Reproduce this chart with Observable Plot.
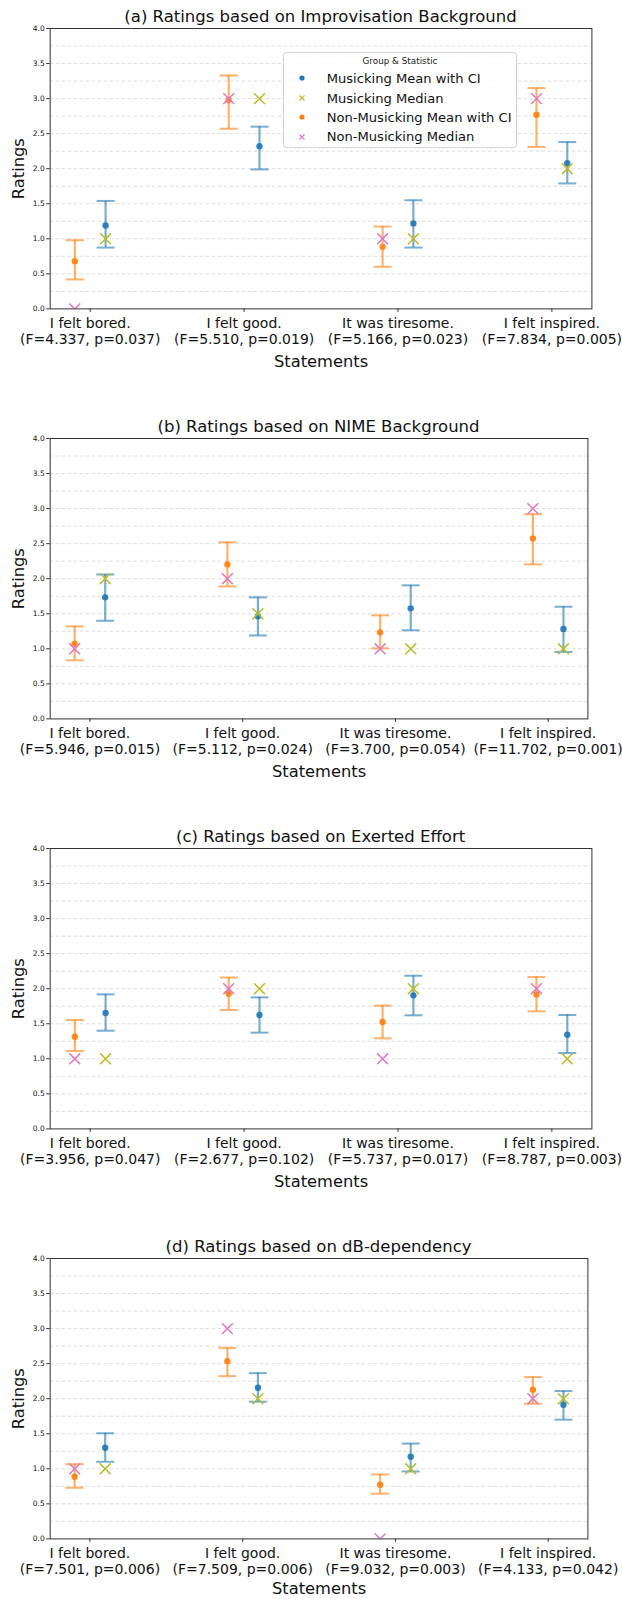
<!DOCTYPE html>
<html>
<head>
<meta charset="utf-8">
<script src="https://cdn.jsdelivr.net/npm/d3@7"></script>
<script src="https://cdn.jsdelivr.net/npm/@observablehq/plot@0.6"></script>
<style>
  body { margin: 0; background: #fff; font-family: "DejaVu Sans", sans-serif; }
  #root { position: relative; width: 622px; height: 1599px; overflow: hidden; background: #fff; }
  .panel { position: absolute; left: 0; width: 622px; }
  .title { position: absolute; font-size: 16.5px; line-height: 1; white-space: nowrap; transform: translate(-50%, -50%); color: #111; }
  .legend { position: absolute; box-sizing: border-box; border: 1px solid #d4d4d4; border-radius: 3px; background: rgba(255,255,255,0.85); }
  .legend .lt { position: absolute; left: 0; right: 0; text-align: center; font-size: 8.8px; line-height: 1; color: #222; }
  .legend .row { position: absolute; left: 0; height: 16px; display: flex; align-items: center; }
  .legend .row span { font-size: 13.1px; color: #111; line-height: 1; white-space: nowrap; }
</style>
</head>
<body>
<div id="root"></div>
<script>
// ---------- data ----------
const statements = ["I felt bored.", "I felt good.", "It was tiresome.", "I felt inspired."];
const titles = [
  "(a) Ratings based on Improvisation Background",
  "(b) Ratings based on NIME Background",
  "(c) Ratings based on Exerted Effort",
  "(d) Ratings based on dB-dependency"
];
const statsA = ["(F=4.337, p=0.037)", "(F=5.510, p=0.019)", "(F=5.166, p=0.023)", "(F=7.834, p=0.005)"];
const statsB = ["(F=5.946, p=0.015)", "(F=5.112, p=0.024)", "(F=3.700, p=0.054)", "(F=11.702, p=0.001)"];
const statsC = ["(F=3.956, p=0.047)", "(F=2.677, p=0.102)", "(F=5.737, p=0.017)", "(F=8.787, p=0.003)"];
const statsD = ["(F=7.501, p=0.006)", "(F=7.509, p=0.006)", "(F=9.032, p=0.003)", "(F=4.133, p=0.042)"];

const yTicks = [0, 0.5, 1, 1.5, 2, 2.5, 3, 3.5, 4];
const gridLines = [0.25, 0.5, 0.75, 1, 1.25, 1.5, 1.75, 2, 2.25, 2.5, 2.75, 3, 3.25, 3.5, 3.75];

const legendLabels = ["Musicking Mean with CI", "Musicking Median", "Non-Musicking Mean with CI", "Non-Musicking Median"];

// (a) Improvisation Background
const musMeanA = [1.19, 2.32, 1.22, 2.08];
const musLowA = [0.875, 1.99, 0.875, 1.79];
const musHighA = [1.54, 2.60, 1.55, 2.38];
const musMedianA = [1, 3, 1, 2];
const nonMeanA = [0.68, 2.98, 0.885, 2.77];
const nonLowA = [0.42, 2.57, 0.60, 2.31];
const nonHighA = [0.98, 3.33, 1.175, 3.15];
const nonMedianA = [0, 3, 1, 3];
// (b) NIME Background
const musMeanB = [1.734, 1.463, 1.577, 1.283];
const musLowB = [1.40, 1.19, 1.264, 0.955];
const musHighB = [2.06, 1.734, 1.905, 1.60];
const musMedianB = [2, 1.5, 1, 1];
const nonMeanB = [1.074, 2.204, 1.235, 2.575];
const nonLowB = [0.836, 1.89, 1.007, 2.204];
const nonHighB = [1.32, 2.52, 1.477, 2.92];
const nonMedianB = [1, 2, 1, 3];
// (c) Exerted Effort
const musMeanC = [1.653, 1.625, 1.905, 1.344];
const musLowC = [1.401, 1.373, 1.62, 1.083];
const musHighC = [1.919, 1.876, 2.185, 1.625];
const musMedianC = [1, 2, 2, 1];
const nonMeanC = [1.316, 1.929, 1.525, 1.919];
const nonLowC = [1.112, 1.696, 1.292, 1.677];
const nonHighC = [1.553, 2.16, 1.758, 2.166];
const nonMedianC = [1, 2, 1, 2];
// (d) dB-dependency
const musMeanD = [1.30, 2.156, 1.171, 1.915];
const musLowD = [1.10, 1.957, 0.962, 1.701];
const musHighD = [1.507, 2.365, 1.36, 2.109];
const musMedianD = [1, 2, 1, 2];
const nonMeanD = [0.886, 2.536, 0.773, 2.128];
const nonLowD = [0.73, 2.322, 0.645, 1.929];
const nonHighD = [1.066, 2.725, 0.919, 2.308];
const nonMedianD = [1, 3, 0, 2];

// ---------- style / layout ----------
const BLUE = "#1f77b4", ORANGE = "#ff7f0e", OLIVE = "#bcbd22", PINK = "#e377c2";
const OFFSET = 0.1;
const frameTops = [28.3, 438.3, 848.3, 1258.3];
const marginRights = [30.6, 34.6, 30.6, 34.6];
const xLabelOffsets = [53, 53, 53, 49.5];
const MT = 8, FRAME_H = 280.4, MB = 72.6, ML = 49.7;

const panels = [
  {stats: statsA, mm: musMeanA, ml: musLowA, mh: musHighA, md: musMedianA, nm: nonMeanA, nl: nonLowA, nh: nonHighA, nd: nonMedianA},
  {stats: statsB, mm: musMeanB, ml: musLowB, mh: musHighB, md: musMedianB, nm: nonMeanB, nl: nonLowB, nh: nonHighB, nd: nonMedianB},
  {stats: statsC, mm: musMeanC, ml: musLowC, mh: musHighC, md: musMedianC, nm: nonMeanC, nl: nonLowC, nh: nonHighC, nd: nonMedianC},
  {stats: statsD, mm: musMeanD, ml: musLowD, mh: musHighD, md: musMedianD, nm: nonMeanD, nl: nonLowD, nh: nonHighD, nd: nonMedianD}
];

const capSymbol = {
  draw(ctx, size) { const w = Math.sqrt(size / Math.PI); ctx.moveTo(-w, 0); ctx.lineTo(w, 0); }
};

const root = document.getElementById("root");

function errorMarks(rows, xf, yMean, yLo, yHi, color) {
  return [
    Plot.ruleX(rows, {x: xf, y1: yLo, y2: yHi, stroke: color, strokeOpacity: 0.6, strokeWidth: 2.2}),
    Plot.dot(rows, {x: xf, y: yLo, symbol: capSymbol, r: 9, fill: "none", stroke: color, strokeOpacity: 0.6, strokeWidth: 2}),
    Plot.dot(rows, {x: xf, y: yHi, symbol: capSymbol, r: 9, fill: "none", stroke: color, strokeOpacity: 0.6, strokeWidth: 2}),
    Plot.dot(rows, {x: xf, y: yMean, r: 3.2, fill: color, fillOpacity: 0.9, stroke: "none"})
  ];
}

panels.forEach((p, k) => {
  const rows = statements.map((s, i) => ({
    i, mm: p.mm[i], ml: p.ml[i], mh: p.mh[i], md: p.md[i],
    nm: p.nm[i], nl: p.nl[i], nh: p.nh[i], nd: p.nd[i]
  }));
  const xMus = d => d.i + OFFSET;
  const xNon = d => d.i - OFFSET;
  const mr = marginRights[k];

  const chart = Plot.plot({
    width: 622,
    height: MT + FRAME_H + MB,
    marginLeft: ML,
    marginRight: mr,
    marginTop: MT,
    marginBottom: MB,
    x: {type: "linear", domain: [-0.26, 3.26], axis: null},
    y: {domain: [0, 4], axis: null},
    style: {fontFamily: "'DejaVu Sans', sans-serif", background: "transparent", color: "#111", overflow: "visible"},
    marks: [
      Plot.ruleY(gridLines, {stroke: "#d9d9d9", strokeWidth: 0.9, strokeDasharray: "3.5,2.5"}),
      Plot.axisY({ticks: yTicks, tickFormat: d => d.toFixed(1), fontSize: 7.5, tickSize: 3.5, tickPadding: 2, label: null, stroke: "#333"}),
      Plot.axisX({ticks: [0, 1, 2, 3], tickFormat: i => statements[i] + "\n" + p.stats[i], fontSize: 14, tickSize: 3.5, tickPadding: 4, lineHeight: 1.17, label: null, stroke: "#333"}),
      Plot.text(["Ratings"], {frameAnchor: "left", dx: -31.8, rotate: -90, textAnchor: "middle", lineAnchor: "middle", fontSize: 16.3, fill: "#111"}),
      Plot.text(["Statements"], {frameAnchor: "bottom", dy: xLabelOffsets[k], textAnchor: "middle", lineAnchor: "middle", fontSize: 16.3, fill: "#111"}),
      ...errorMarks(rows, xMus, "mm", "ml", "mh", BLUE),
      Plot.dot(rows, {x: xMus, y: "md", symbol: "times", r: 5, stroke: OLIVE, strokeWidth: 1.5, clip: true}),
      ...errorMarks(rows, xNon, "nm", "nl", "nh", ORANGE),
      Plot.dot(rows, {x: xNon, y: "nd", symbol: "times", r: 5, stroke: PINK, strokeWidth: 1.5, clip: true}),
      Plot.frame({stroke: "#333", strokeWidth: 1})
    ]
  });

  const wrap = document.createElement("div");
  wrap.className = "panel";
  wrap.style.top = (frameTops[k] - MT) + "px";
  wrap.appendChild(chart);
  root.appendChild(wrap);

  const t = document.createElement("div");
  t.className = "title";
  t.textContent = titles[k];
  t.style.left = ((ML + 622 - mr) / 2) + "px";
  t.style.top = (frameTops[k] - 11.3) + "px";
  root.appendChild(t);
});

// ---------- legend (panel a) ----------
const legend = document.createElement("div");
legend.className = "legend";
Object.assign(legend.style, {left: "283.3px", top: "51.7px", width: "233.4px", height: "96.6px"});
const lt = document.createElement("div");
lt.className = "lt";
lt.style.top = "4.6px";
lt.textContent = "Group & Statistic";
legend.appendChild(lt);
const legendColors = [BLUE, OLIVE, ORANGE, PINK];
const legendShapes = ["dot", "x", "dot", "x"];
const rowCenters = [25.6, 45.4, 64.4, 84.0];
legendLabels.forEach((lab, i) => {
  const row = document.createElement("div");
  row.className = "row";
  row.style.top = (rowCenters[i] - 8) + "px";
  const shape = legendShapes[i] === "dot"
    ? `<circle cx="6" cy="8" r="2.6" fill="${legendColors[i]}"/>`
    : `<path d="M3.5,5.5L8.5,10.5M8.5,5.5L3.5,10.5" stroke="${legendColors[i]}" stroke-width="1.1" fill="none"/>`;
  row.innerHTML = `<svg width="12" height="16" style="margin-left:11.4px;margin-right:19px">${shape}</svg><span>${lab}</span>`;
  legend.appendChild(row);
});
root.appendChild(legend);
</script>
</body>
</html>
